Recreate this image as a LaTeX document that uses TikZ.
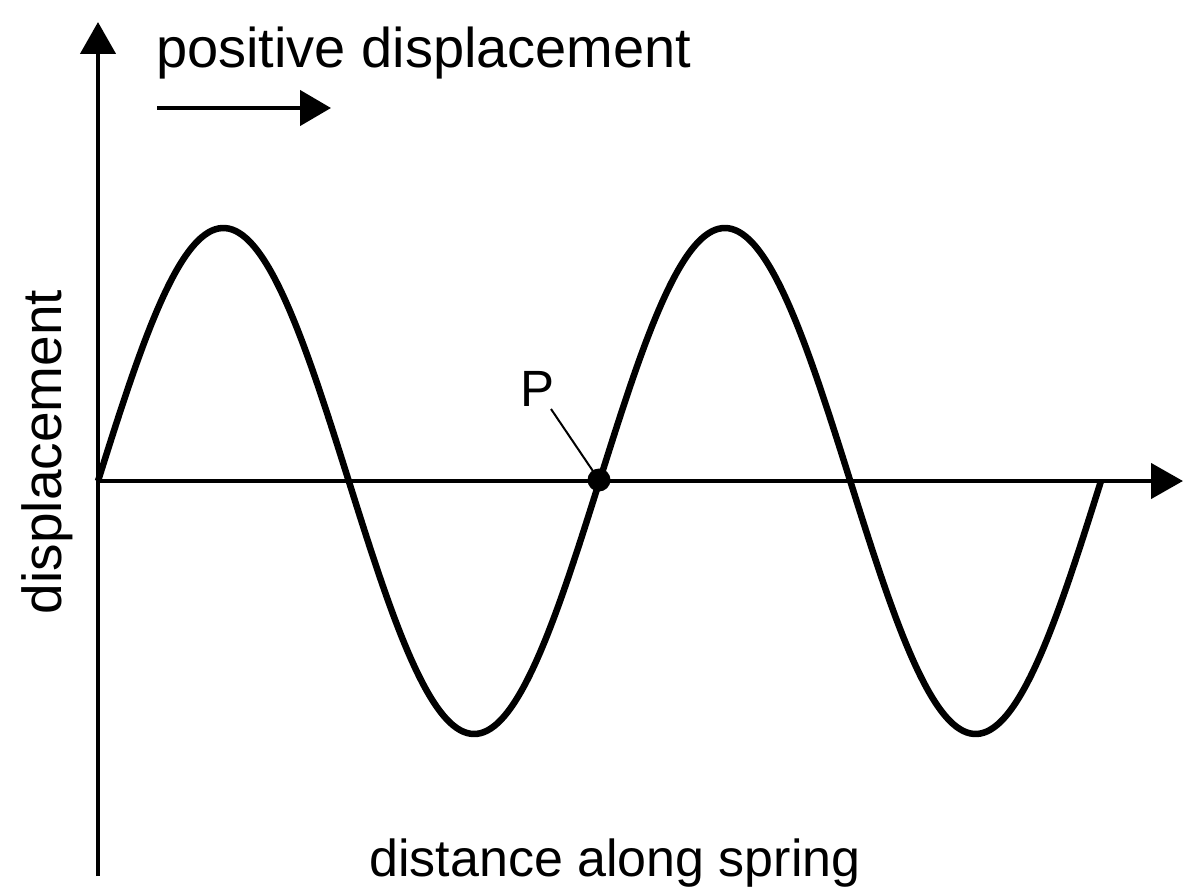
\documentclass[tikz,border=0pt]{standalone}
\usepackage{fontspec}
\setmainfont{Liberation Sans}
\usetikzlibrary{arrows.meta}
\begin{document}
\begin{tikzpicture}[x=1pt,y=-1pt,
  axis/.style={line width=4.5pt,-{Triangle[length=32pt,width=35pt]}},
  wave/.style={line width=6.5pt,line join=round},
  lbl/.style={inner sep=0pt,font=\fontsize{54}{60}\selectfont}]
\useasboundingbox (0,0) rectangle (1200,896);
\coordinate (o) at (98,481);
\coordinate (ytop) at (98,22);
\coordinate (ybot) at (98,876);
\coordinate (xend) at (1183,481);
\draw[axis] (ybot) -- (ytop);
\draw[axis] (o) -- (xend);
\draw[wave] plot[domain=98:1101,samples=300,smooth] (\x,{481-253*sin(0.717846*(\x-98))});
% small arrow
\coordinate (sa) at (157,108);
\coordinate (sb) at (331,108);
\draw[line width=4.5pt,-{Triangle[length=31pt,width=35pt]}] (sa) -- (sb);
% P
\node[circle,fill=black,minimum size=23pt,inner sep=0pt] (p) at (599,480) {};
\coordinate (pl) at (551,409);
\draw[line width=2pt] (pl) -- (p.center);
\node[lbl,anchor=base west,font=\fontsize{51}{60}\selectfont] (plab) at (520,406) {P};
\node[lbl,anchor=base west,font=\fontsize{56}{60}\selectfont] (t1) at (156,68) {positive displacement};
\node[lbl,anchor=base,font=\fontsize{52}{60}\selectfont] (t2) at (615,876) {distance along spring};
\node[lbl,anchor=base,rotate=90,font=\fontsize{55}{60}\selectfont] (t3) at (61,452) {displacement};
\end{tikzpicture}
\end{document}
